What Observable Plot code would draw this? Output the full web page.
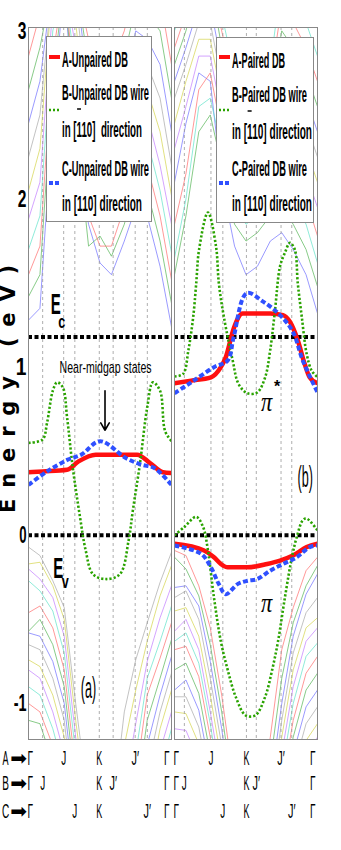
<!DOCTYPE html>
<html><head><meta charset="utf-8">
<script src="https://cdn.jsdelivr.net/npm/d3@7"></script>
<script src="https://cdn.jsdelivr.net/npm/@observablehq/plot@0.6"></script>
<style>body{margin:0;background:#fff}#chart{width:341px;height:850px}</style>
</head><body><div id="chart"></div>
<script>
// ---------- data ----------
const panelIds = ["a", "b"];
const bk = [0, 0.08, 0.17, 0.25, 0.33, 0.42, 0.5, 0.58, 0.67, 0.75, 0.83, 0.92, 1];
const bandPalette = ["#a8a8a8", "#d4d44a", "#c27cff", "#5fe3c8", "#ff6b6b", "#55b455", "#6f6fff"];

const condA = [
 [1.28, 1.35, 2.50, 3.30, 2.30, 1.85, 1.62, 1.55, 1.75, 1.95, 1.90, 1.60, 1.24],
 [1.42, 1.55, 2.70, 3.30, 2.45, 1.72, 1.78, 1.66, 1.85, 2.10, 2.05, 1.75, 1.38],
 [1.55, 1.72, 2.85, 3.30, 2.60, 1.90, 1.72, 1.72, 1.95, 2.25, 2.20, 1.90, 1.52],
 [1.70, 1.90, 3.00, 3.30, 2.75, 2.05, 1.90, 1.90, 2.10, 2.40, 2.35, 2.05, 1.68],
 [1.88, 2.10, 3.15, 3.30, 2.90, 2.20, 2.05, 2.05, 2.25, 2.55, 2.50, 2.20, 1.85],
 [2.05, 2.30, 3.30, 3.30, 3.05, 2.35, 2.20, 2.20, 2.40, 2.70, 2.65, 2.40, 2.02],
 [2.25, 2.50, 3.30, 3.30, 3.20, 2.50, 2.35, 2.35, 2.55, 2.85, 2.80, 2.60, 2.20],
 [2.45, 2.70, 3.30, 3.30, 3.30, 2.65, 2.50, 2.50, 2.70, 3.00, 2.95, 2.80, 2.40],
 [2.65, 2.90, 3.30, 3.30, 3.30, 2.80, 2.65, 2.65, 2.85, 3.15, 3.10, 3.00, 2.60],
 [2.85, 3.10, 3.30, 3.30, 3.30, 2.95, 2.80, 2.80, 3.00, 3.30, 3.30, 3.20, 2.80]
];
const valA = [
 [-0.07, -0.12, -0.27, -0.43, -1.00, -1.60, -1.90, -1.70, -1.05, -0.74, -0.52, -0.28, -0.10],
 [-0.17, -0.16, -0.30, -0.50, -1.10, -1.70, -2.00, -1.80, -1.25, -0.92, -0.63, -0.36, -0.18],
 [-0.20, -0.26, -0.37, -0.60, -1.20, -1.80, -2.00, -1.90, -1.50, -1.12, -0.75, -0.49, -0.30],
 [-0.27, -0.33, -0.45, -0.70, -1.30, -1.90, -2.00, -2.00, -1.70, -1.30, -0.85, -0.63, -0.42],
 [-0.46, -0.42, -0.55, -0.80, -1.40, -2.00, -2.00, -2.00, -1.90, -1.45, -0.95, -0.73, -0.52],
 [-0.57, -0.50, -0.65, -0.90, -1.50, -2.00, -2.00, -2.00, -2.00, -1.60, -1.10, -0.85, -0.62],
 [-0.58, -0.60, -0.75, -1.00, -1.60, -2.00, -2.00, -2.00, -2.00, -1.75, -1.25, -0.95, -0.72],
 [-0.65, -0.68, -0.85, -1.10, -1.70, -2.00, -2.00, -2.00, -2.00, -1.90, -1.40, -1.05, -0.82],
 [-0.74, -0.78, -0.95, -1.20, -1.80, -2.00, -2.00, -2.00, -2.00, -2.00, -1.55, -1.15, -0.92],
 [-0.80, -0.85, -1.05, -1.30, -1.90, -2.00, -2.00, -2.00, -2.00, -2.00, -1.70, -1.28, -1.05],
 [-0.90, -0.95, -1.15, -1.40, -2.00, -2.00, -2.00, -2.00, -2.00, -2.00, -1.85, -1.40, -1.15],
 [-1.00, -1.05, -1.25, -1.50, -2.00, -2.00, -2.00, -2.00, -2.00, -2.00, -2.00, -1.52, -1.25],
 [-1.10, -1.12, -1.35, -1.60, -2.00, -2.00, -2.00, -2.00, -2.00, -2.00, -2.00, -1.65, -1.35]
];
const condB = [
 [2.10, 2.45, 2.75, 2.70, 2.10, 1.72, 1.55, 1.60, 1.75, 1.80, 1.70, 1.55, 1.32],
 [1.55, 1.90, 2.40, 2.50, 2.20, 1.85, 1.75, 1.80, 1.90, 1.95, 1.85, 1.70, 1.48],
 [1.85, 2.15, 2.65, 2.75, 2.40, 2.05, 1.90, 1.95, 2.10, 2.25, 2.15, 2.00, 1.78],
 [1.65, 2.00, 2.55, 2.60, 2.30, 1.95, 1.85, 1.90, 2.00, 2.10, 2.00, 1.85, 1.62],
 [2.30, 2.55, 2.85, 2.85, 2.50, 2.15, 2.00, 2.05, 2.20, 2.40, 2.30, 2.15, 1.95],
 [2.45, 2.70, 2.95, 2.95, 2.60, 2.25, 2.10, 2.15, 2.30, 2.55, 2.45, 2.30, 2.10],
 [2.60, 2.80, 3.05, 3.05, 2.70, 2.35, 2.20, 2.25, 2.40, 2.70, 2.60, 2.45, 2.25],
 [2.70, 2.90, 3.15, 3.15, 2.80, 2.45, 2.30, 2.35, 2.50, 2.85, 2.75, 2.60, 2.40],
 [2.80, 3.00, 3.30, 3.30, 2.90, 2.55, 2.40, 2.45, 2.60, 3.00, 2.90, 2.75, 2.55],
 [2.90, 3.10, 3.30, 3.30, 3.00, 2.65, 2.50, 2.55, 2.70, 3.15, 3.05, 2.90, 2.70],
 [3.00, 3.20, 3.30, 3.30, 3.10, 2.75, 2.60, 2.65, 2.80, 3.30, 3.20, 3.05, 2.85]
];
const valB = [
 [-0.09, -0.12, -0.30, -0.55, -0.95, -1.50, -1.90, -1.70, -1.20, -0.68, -0.43, -0.21, -0.13],
 [-0.13, -0.20, -0.36, -0.65, -1.05, -1.60, -2.00, -1.80, -1.35, -0.85, -0.52, -0.30, -0.18],
 [-0.31, -0.30, -0.42, -0.75, -1.15, -1.70, -2.00, -1.90, -1.50, -1.00, -0.60, -0.35, -0.23],
 [-0.37, -0.33, -0.50, -0.85, -1.25, -1.80, -2.00, -2.00, -1.60, -1.10, -0.70, -0.46, -0.37],
 [-0.45, -0.43, -0.60, -0.95, -1.35, -1.90, -2.00, -2.00, -1.70, -1.20, -0.80, -0.55, -0.49],
 [-0.57, -0.50, -0.68, -1.05, -1.45, -2.00, -2.00, -2.00, -1.80, -1.30, -0.90, -0.63, -0.55],
 [-0.63, -0.58, -0.76, -1.12, -1.55, -2.00, -2.00, -2.00, -1.90, -1.40, -1.00, -0.72, -0.64],
 [-0.68, -0.66, -0.84, -1.20, -1.65, -2.00, -2.00, -2.00, -2.00, -1.50, -1.10, -0.82, -0.72],
 [-0.80, -0.76, -0.94, -1.30, -1.75, -2.00, -2.00, -2.00, -2.00, -1.60, -1.20, -0.92, -0.82],
 [-0.92, -0.86, -1.04, -1.40, -1.85, -2.00, -2.00, -2.00, -2.00, -1.70, -1.30, -1.02, -0.92],
 [-0.96, -0.96, -1.14, -1.50, -1.95, -2.00, -2.00, -2.00, -2.00, -1.80, -1.40, -1.12, -1.02],
 [-1.05, -1.06, -1.24, -1.60, -2.00, -2.00, -2.00, -2.00, -2.00, -1.90, -1.50, -1.22, -1.12],
 [-1.15, -1.16, -1.34, -1.70, -2.00, -2.00, -2.00, -2.00, -2.00, -2.00, -1.60, -1.32, -1.20]
];

// main curves, panel (a): unpaired dangling bonds
const unpairedDB_k = [0, 0.1, 0.27, 0.35, 0.47, 0.6, 0.76, 0.85, 0.94, 1];
const unpairedDB_e = [0.375, 0.38, 0.39, 0.44, 0.48, 0.48, 0.48, 0.43, 0.375, 0.37];
const unpairedB_k = [0, 0.098, 0.13, 0.17, 0.2, 0.24, 0.27, 0.31, 0.36, 0.4, 0.45, 0.54, 0.64, 0.7, 0.73, 0.78, 0.83, 0.87, 0.92, 0.955, 1];
const unpairedB_e = [0.55, 0.57, 0.67, 0.86, 0.91, 0.88, 0.70, 0.40, 0.11, -0.09, -0.23, -0.26, -0.23, -0.03, 0.15, 0.43, 0.76, 0.91, 0.86, 0.62, 0.56];
const unpairedC_k = [0, 0.13, 0.275, 0.37, 0.5, 0.68, 0.79, 0.88, 1];
const unpairedC_e = [0.30, 0.38, 0.45, 0.48, 0.56, 0.46, 0.42, 0.40, 0.30];
// panel (b): paired dangling bonds, pi* (upper) and pi (lower)
const pairedDB_k = [0, 0.117, 0.255, 0.324, 0.359, 0.414, 0.476, 0.669, 0.759, 0.807, 0.862, 0.91, 0.945, 1];
const pairedDB_e = [0.905, 0.92, 0.94, 1.0, 1.06, 1.23, 1.32, 1.32, 1.31, 1.27, 1.16, 1.02, 0.94, 0.905];
const pairedDBlo_k = [0, 0.207, 0.276, 0.324, 0.372, 0.51, 0.648, 0.738, 0.828, 0.924, 1];
const pairedDBlo_e = [-0.05, -0.09, -0.13, -0.17, -0.19, -0.19, -0.17, -0.15, -0.12, -0.07, -0.05];
const pairedB_k = [0, 0.06, 0.097, 0.131, 0.152, 0.172, 0.234, 0.29, 0.31, 0.345, 0.407, 0.448, 0.51, 0.579, 0.634, 0.669, 0.703, 0.738, 0.772, 0.807, 0.841, 0.862, 0.89, 0.924, 0.959, 1];
const pairedB_e = [0.945, 0.96, 1.1, 1.3, 1.5, 1.7, 1.92, 1.72, 1.5, 1.3, 1.04, 0.9, 0.845, 0.85, 0.94, 1.1, 1.34, 1.6, 1.68, 1.74, 1.7, 1.5, 1.3, 1.08, 0.98, 0.94];
const pairedBlo_k = [0, 0.069, 0.152, 0.2, 0.234, 0.276, 0.324, 0.372, 0.428, 0.497, 0.566, 0.634, 0.683, 0.724, 0.772, 0.821, 0.855, 0.897, 0.924, 1];
const pairedBlo_e = [0, 0.05, 0.11, 0.05, -0.09, -0.37, -0.63, -0.80, -0.96, -1.07, -1.07, -0.96, -0.80, -0.63, -0.37, -0.13, -0.01, 0.09, 0.10, 0.03];
const pairedC_k = [0, 0.117, 0.276, 0.372, 0.414, 0.505, 0.62, 0.738, 0.828, 0.897, 1];
const pairedC_e = [0.845, 0.91, 1.0, 1.04, 1.18, 1.44, 1.39, 1.31, 1.21, 1.04, 0.85];
const pairedClo_k = [0, 0.186, 0.255, 0.31, 0.359, 0.441, 0.51, 0.579, 0.669, 0.759, 0.855, 0.945, 1];
const pairedClo_e = [-0.06, -0.11, -0.19, -0.29, -0.35, -0.29, -0.27, -0.26, -0.21, -0.17, -0.13, -0.07, -0.06];

const bandEdges = [1.18, 0]; // Ec, Ev
const tickNames = ["Γ", "J", "K", "J′", "Γ"];
const rowNames = ["A", "B", "C"];
const ticksA_a = [0, 0.246, 0.495, 0.746, 1];
const ticksB_a = [0, 0.099, 0.495, 0.592, 1];
const ticksC_a = [0, 0.324, 0.495, 0.831, 1];
const ticksA_b = [0, 0.255, 0.503, 0.745, 1];
const ticksB_b = [0, 0.069, 0.503, 0.572, 1];
const ticksC_b = [0, 0.338, 0.503, 0.82, 1];
const yTicks = [-1, 0, 1, 2, 3];

const midgapNote = [{panel: "a", k: 0.539, e: 1.0, text: "Near-midgap states"}];
const midgapArrow = [{panel: "a", k: 0.535, e1: 0.86, e2: 0.625}];
const panelTags = [{panel: "a", k: 0.419, e: -0.91, text: "(a)"}, {panel: "b", k: 0.914, e: 0.345, text: "(b)"}];
const piLabels = [{panel: "b", k: 0.645, e: 0.79, text: "π"}, {panel: "b", k: 0.645, e: -0.405, text: "π"}];
const starLabel = [{panel: "b", k: 0.717, e: 0.885, text: "*"}];
const edgeLabels = [{panel: "a", k: 0.19, e: 1.375, text: "E"}, {panel: "a", k: 0.208, e: -0.195, text: "E"}];
const edgeSubs = [{panel: "a", k: 0.232, e: 1.265, text: "c"}, {panel: "a", k: 0.257, e: -0.28, text: "v"}];

// ---------- tables ----------
function bandRows(panel, group, sets, colorOf) {
  return sets.flatMap((vals, i) => vals.map((e, j) => ({panel, id: panel + group + i, k: bk[j], e, color: bandPalette[colorOf(i)]})));
}
const bands = [
  ...bandRows("a", "c", condA, i => (6 - i % 7)),
  ...bandRows("a", "v", valA, i => i % 7),
  ...bandRows("b", "c", condB, i => (6 - i % 7)),
  ...bandRows("b", "v", valB, i => (i + 4) % 7)
];
function curve(panel, id, ks, es) { return ks.map((k, i) => ({panel, id, k, e: es[i]})); }
const redRows = [...curve("a", "r1", unpairedDB_k, unpairedDB_e), ...curve("b", "r2", pairedDB_k, pairedDB_e), ...curve("b", "r3", pairedDBlo_k, pairedDBlo_e)];
const greenRows = [...curve("a", "g1", unpairedB_k, unpairedB_e), ...curve("b", "g2", pairedB_k, pairedB_e), ...curve("b", "g3", pairedBlo_k, pairedBlo_e)];
const blueRows = [...curve("a", "b1", unpairedC_k, unpairedC_e), ...curve("b", "b2", pairedC_k, pairedC_e), ...curve("b", "b3", pairedClo_k, pairedClo_e)];
const edgeRows = panelIds.flatMap(panel => bandEdges.map(e => ({panel, e})));
const tickSets = {a: [ticksA_a, ticksB_a, ticksC_a], b: [ticksA_b, ticksB_b, ticksC_b]};
const vRows = panelIds.flatMap(panel => {
  const s = new Set(tickSets[panel].flatMap(t => t.slice(1, -1)));
  return [...s].map(k => ({panel, k}));
});
const rowDy = [25, 50, 78];
const labelRows = r => panelIds.flatMap(panel => tickSets[panel][r].map((k, i) => ({panel, k, label: tickNames[i], pos: i})));

const font = "Liberation Sans, Arial, sans-serif";
const GREEN = "#2aa300", BLUE = "#2f50ff", RED = "#ff1010";
const tickMarks = [];
for (let r = 0; r < 3; r++) {
  const rows = labelRows(r);
  const base = {fx: "panel", x: "k", text: "label", frameAnchor: "bottom", dy: rowDy[r], fontSize: 20, fontFamily: font, fill: "black"};
  tickMarks.push(Plot.text(rows.filter(d => d.pos > 0 && d.pos < 4), {...base, textAnchor: "middle"}));
  tickMarks.push(Plot.text(rows.filter(d => d.pos === 0), {...base, textAnchor: "start", dx: -1}));
  tickMarks.push(Plot.text(rows.filter(d => d.pos === 4), {...base, textAnchor: "end", dx: -2}));
  tickMarks.push(Plot.text([{panel: "a", k: 0, label: rowNames[r]}], {...base, textAnchor: "middle", dx: -23}));
  tickMarks.push(Plot.text([{panel: "a", k: 0, label: "➡"}], {...base, fontFamily: "DejaVu Sans", fontSize: 20, textAnchor: "middle", dx: -10}));
}

const chart = Plot.plot({
  width: 341, height: 850,
  marginLeft: 28, marginRight: 23, marginTop: 27, marginBottom: 111,
  style: {fontFamily: font, background: "white", overflow: "visible"},
  x: {domain: [0, 1], axis: null},
  y: {domain: [-1.214, 3.02]},
  fx: {domain: panelIds, padding: 0.02, axis: null},
  color: {type: "identity"},
  marks: [
    Plot.line(bands, {fx: "panel", x: "k", y: "e", z: "id", stroke: "color", strokeWidth: 0.7, clip: true}),
    Plot.ruleX(vRows, {fx: "panel", x: "k", stroke: "#999", strokeWidth: 0.8, strokeDasharray: "3,3"}),
    Plot.ruleY(edgeRows, {fx: "panel", y: "e", stroke: "black", strokeWidth: 4, strokeDasharray: "4,2.5"}),
    Plot.line(redRows, {fx: "panel", x: "k", y: "e", z: "id", stroke: RED, strokeWidth: 4.5, curve: "monotone-x", clip: true}),
    Plot.line(greenRows, {fx: "panel", x: "k", y: "e", z: "id", stroke: GREEN, strokeWidth: 2.6, strokeDasharray: "2.2,2", strokeLinecap: "butt", curve: "catmull-rom", clip: true}),
    Plot.line(blueRows, {fx: "panel", x: "k", y: "e", z: "id", stroke: BLUE, strokeWidth: 4, strokeDasharray: "5,2.5", strokeLinecap: "butt", curve: "catmull-rom", clip: true}),
    Plot.frame({stroke: "#888", strokeWidth: 1}),
    Plot.axisY({ticks: yTicks, tickSize: 0, tickPadding: 2, fontSize: 24, fontWeight: "bold", tickFormat: d => d < 0 ? "-" + Math.abs(d) : String(d), label: null}),
    Plot.text([{panel: "a", text: "Energy (eV)"}], {fx: "panel", text: "text", frameAnchor: "left", textAnchor: "middle", dx: -20, rotate: -90, fontSize: 21, fontWeight: "bold", fontFamily: "DejaVu Sans"}),
    Plot.text(midgapNote, {fx: "panel", x: "k", y: "e", text: "text", fontSize: 17}),
    Plot.arrow(midgapArrow, {fx: "panel", x1: "k", x2: "k", y1: "e1", y2: "e2", stroke: "black", strokeWidth: 1.6, headLength: 8}),
    Plot.text(panelTags, {fx: "panel", x: "k", y: "e", text: "text", fontSize: 30}),
    Plot.text(piLabels, {fx: "panel", x: "k", y: "e", text: "text", fontSize: 28, fontStyle: "italic", fontFamily: "Liberation Serif"}),
    Plot.text(starLabel, {fx: "panel", x: "k", y: "e", text: "text", fontSize: 16, fontWeight: "bold"}),
    Plot.text(edgeLabels, {fx: "panel", x: "k", y: "e", text: "text", fontSize: 30, fontWeight: "bold"}),
    Plot.text(edgeSubs, {fx: "panel", x: "k", y: "e", text: "text", fontSize: 18, fontWeight: "bold"}),
    ...tickMarks
  ]
});
document.getElementById("chart").appendChild(chart);

// condense the tall narrow lettering of the original figure
const squeeze = new Map([["Γ", 0.5], ["J", 0.5], ["K", 0.45], ["J′", 0.55], ["A", 0.45], ["B", 0.5], ["C", 0.5],
  ["3", 0.65], ["2", 0.65], ["1", 0.8], ["0", 0.55], ["-1", 0.6], ["(a)", 0.42], ["(b)", 0.42],
  ["E", 0.5], ["c", 0.7], ["v", 0.7], ["π", 0.8], ["Near-midgap states", 0.62]]);
chart.querySelectorAll("text").forEach(t => {
  const s = t.textContent;
  if (s === "Energy (eV)") {
    const w = t.getComputedTextLength();
    t.setAttribute("letter-spacing", ((248 - w) / (s.length - 1)).toFixed(2));
  } else if (squeeze.has(s)) {
    const w = t.getComputedTextLength();
    t.setAttribute("textLength", (w * squeeze.get(s)).toFixed(2)); t.setAttribute("lengthAdjust", "spacingAndGlyphs");
  }
});

// ---------- legends ----------
const legends = [
  {x: 46, y: 36, w: 105, h: 185, tx: 62, sx: 49, samples: [57, 110, 183],
   rows: [["A-Unpaired DB", 67, 66], ["B-Unpaired DB wire", 100, 87], ["in [110]  direction", 137, 80, true], ["C-Unpaired DB wire", 176, 87], ["in [110] direction", 211, 80]]},
  {x: 216, y: 37, w: 97, h: 185, tx: 232, sx: 219, samples: [57, 110, 183],
   rows: [["A-Paired DB", 68, 53], ["B-Paired DB wire", 102, 75], ["in [110] direction", 139, 80, true], ["C-Paired DB wire", 176, 75], ["in [110] direction", 211, 80]]}
];
const sampleStyles = [[RED, 4, null], [GREEN, 2.6, "2,2"], [BLUE, 4, "4,2"]];
const svg = d3.select(chart);
legends.forEach(L => {
  const g = svg.append("g").attr("text-anchor", "start");
  g.append("rect").attr("x", L.x + 0.5).attr("y", L.y + 0.5).attr("width", L.w).attr("height", L.h)
    .attr("fill", "white").attr("stroke", "#888").attr("stroke-width", 1);
  L.samples.forEach((sy, i) => {
    const [c, sw, da] = sampleStyles[i];
    const ln = g.append("line").attr("x1", L.sx).attr("x2", L.sx + 11).attr("y1", sy).attr("y2", sy)
      .attr("stroke", c).attr("stroke-width", sw);
    if (da) ln.attr("stroke-dasharray", da);
  });
  L.rows.forEach(([txt, by, w, bar]) => {
    const t = g.append("text").attr("x", L.tx).attr("y", by).attr("text-anchor", "start").attr("font-family", font)
      .attr("font-size", 22).attr("font-weight", "bold").attr("fill", "black")
      .attr("textLength", w).attr("lengthAdjust", "spacingAndGlyphs").text(txt);
    if (bar) {
      const ext = t.node().getExtentOfChar(4);
      g.append("line").attr("x1", ext.x + 0.5).attr("x2", ext.x + ext.width - 0.5)
        .attr("y1", by - 28).attr("y2", by - 28).attr("stroke", "black").attr("stroke-width", 1.5);
    }
  });
});
</script></body></html>
